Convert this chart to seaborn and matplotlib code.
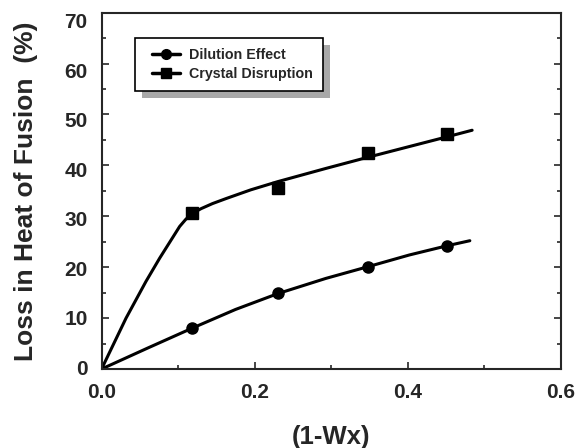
import numpy as np
import pandas as pd
import matplotlib
matplotlib.use('Agg')
import matplotlib.pyplot as plt
import matplotlib.transforms as mtransforms
from matplotlib.patches import Rectangle
import seaborn as sns

# measured points
x_pts = [0.118, 0.230, 0.348, 0.451]
dilution = [8.0, 14.9, 20.1, 24.2]
crystal = [30.6, 35.6, 42.4, 46.2]

# fitted curves
dil_curve_x = [0.0, 0.06, 0.118, 0.175, 0.230, 0.293, 0.348, 0.402, 0.451, 0.481]
dil_curve_y = [0.0, 4.1, 8.0, 11.7, 14.8, 17.8, 20.1, 22.4, 24.2, 25.2]
cry_curve_x = [0.0, 0.032, 0.058, 0.076, 0.089, 0.102, 0.110, 0.118, 0.130, 0.145,
               0.163, 0.195, 0.230, 0.293, 0.348, 0.402, 0.451, 0.484]
cry_curve_y = [0.0, 10.0, 17.2, 21.8, 24.9, 28.0, 29.4, 30.5, 31.5, 32.5,
               33.5, 35.2, 36.8, 39.4, 41.6, 43.7, 45.6, 46.9]

sns.set_style('ticks')
plt.rcParams['font.family'] = ['Liberation Sans', 'DejaVu Sans']
plt.rcParams['font.weight'] = 'bold'

fig = plt.figure(figsize=(5.78, 4.48), dpi=100)
ax = fig.add_axes([0.1757, 0.1763, 0.7948, 0.7955])

sns.lineplot(x=dil_curve_x, y=dil_curve_y, sort=False, color='black', lw=2.2, ax=ax)
sns.lineplot(x=cry_curve_x, y=cry_curve_y, sort=False, color='black', lw=2.2, ax=ax)
ax.plot(x_pts, dilution, 'o', color='black', ms=8, zorder=5)
ax.plot(x_pts, crystal, 's', color='black', ms=8.3, zorder=5)

# legend proxies
ax.plot([], [], '-o', color='black', lw=2.5, ms=7, label='Dilution Effect')
ax.plot([], [], '-s', color='black', lw=2.5, ms=7, label='Crystal Disruption')
leg = ax.legend(loc='upper left', bbox_to_anchor=(0.072, 0.93), frameon=True,
                fancybox=False, edgecolor='black', framealpha=1,
                prop={'size': 10.3, 'weight': 'bold'},
                handlelength=2.0, handletextpad=1.1, borderpad=0.7,
                labelspacing=0.4, borderaxespad=0)
leg.get_frame().set_linewidth(1.2)
leg.set_zorder(10)
# handles sit a little right of the box edge in the original
hshift = mtransforms.ScaledTranslation(0.07, 0, fig.dpi_scale_trans)
for h in leg.legend_handles:
    h.set_transform(h.get_transform() + hshift)

ax.set_xlim(0, 0.6)
ax.set_ylim(0, 70)
ax.set_xticks([0.0, 0.2, 0.4, 0.6])
ax.set_xticklabels(['0.0', '0.2', '0.4', '0.6'])
ax.set_xticks([0.1, 0.3, 0.5], minor=True)
ax.set_yticks(range(0, 80, 10))
ax.set_yticks(range(5, 70, 10), minor=True)
ax.tick_params(which='both', direction='in', right=True, top=False, width=1.2)
ax.tick_params(which='major', length=5, labelsize=15, pad=10)
ax.tick_params(which='minor', length=3)
for s in ax.spines.values():
    s.set_linewidth(1.5)

# y tick labels are spaced a bit tighter than the ticks in the original
for v, lab in zip(range(0, 80, 10), ax.get_yticklabels()):
    off = (-2 + 10 * v / 70) / 100
    lab.set_transform(lab.get_transform() +
                      mtransforms.ScaledTranslation(0, -off, fig.dpi_scale_trans))

ax.set_xlabel('(1-Wx)', fontsize=18.5, fontweight='bold')
ax.set_ylabel('Loss in Heat of Fusion  (%)', fontsize=19, fontweight='bold')
ax.xaxis.set_label_coords(0.5, -0.158)
ax.yaxis.set_label_coords(-0.139, 0.5)

# stippled drop shadow behind legend box
fig.canvas.draw()
bb = leg.get_window_extent().transformed(ax.transAxes.inverted())
dx, dy = 7 / 459, 7 / 356
ax.add_patch(Rectangle((bb.x0 + dx, bb.y0 - dy), bb.width, bb.height,
                       transform=ax.transAxes, facecolor='#a8a8a8',
                       edgecolor='none', hatch='....', zorder=9))

fig.savefig('out.png', dpi=100)
